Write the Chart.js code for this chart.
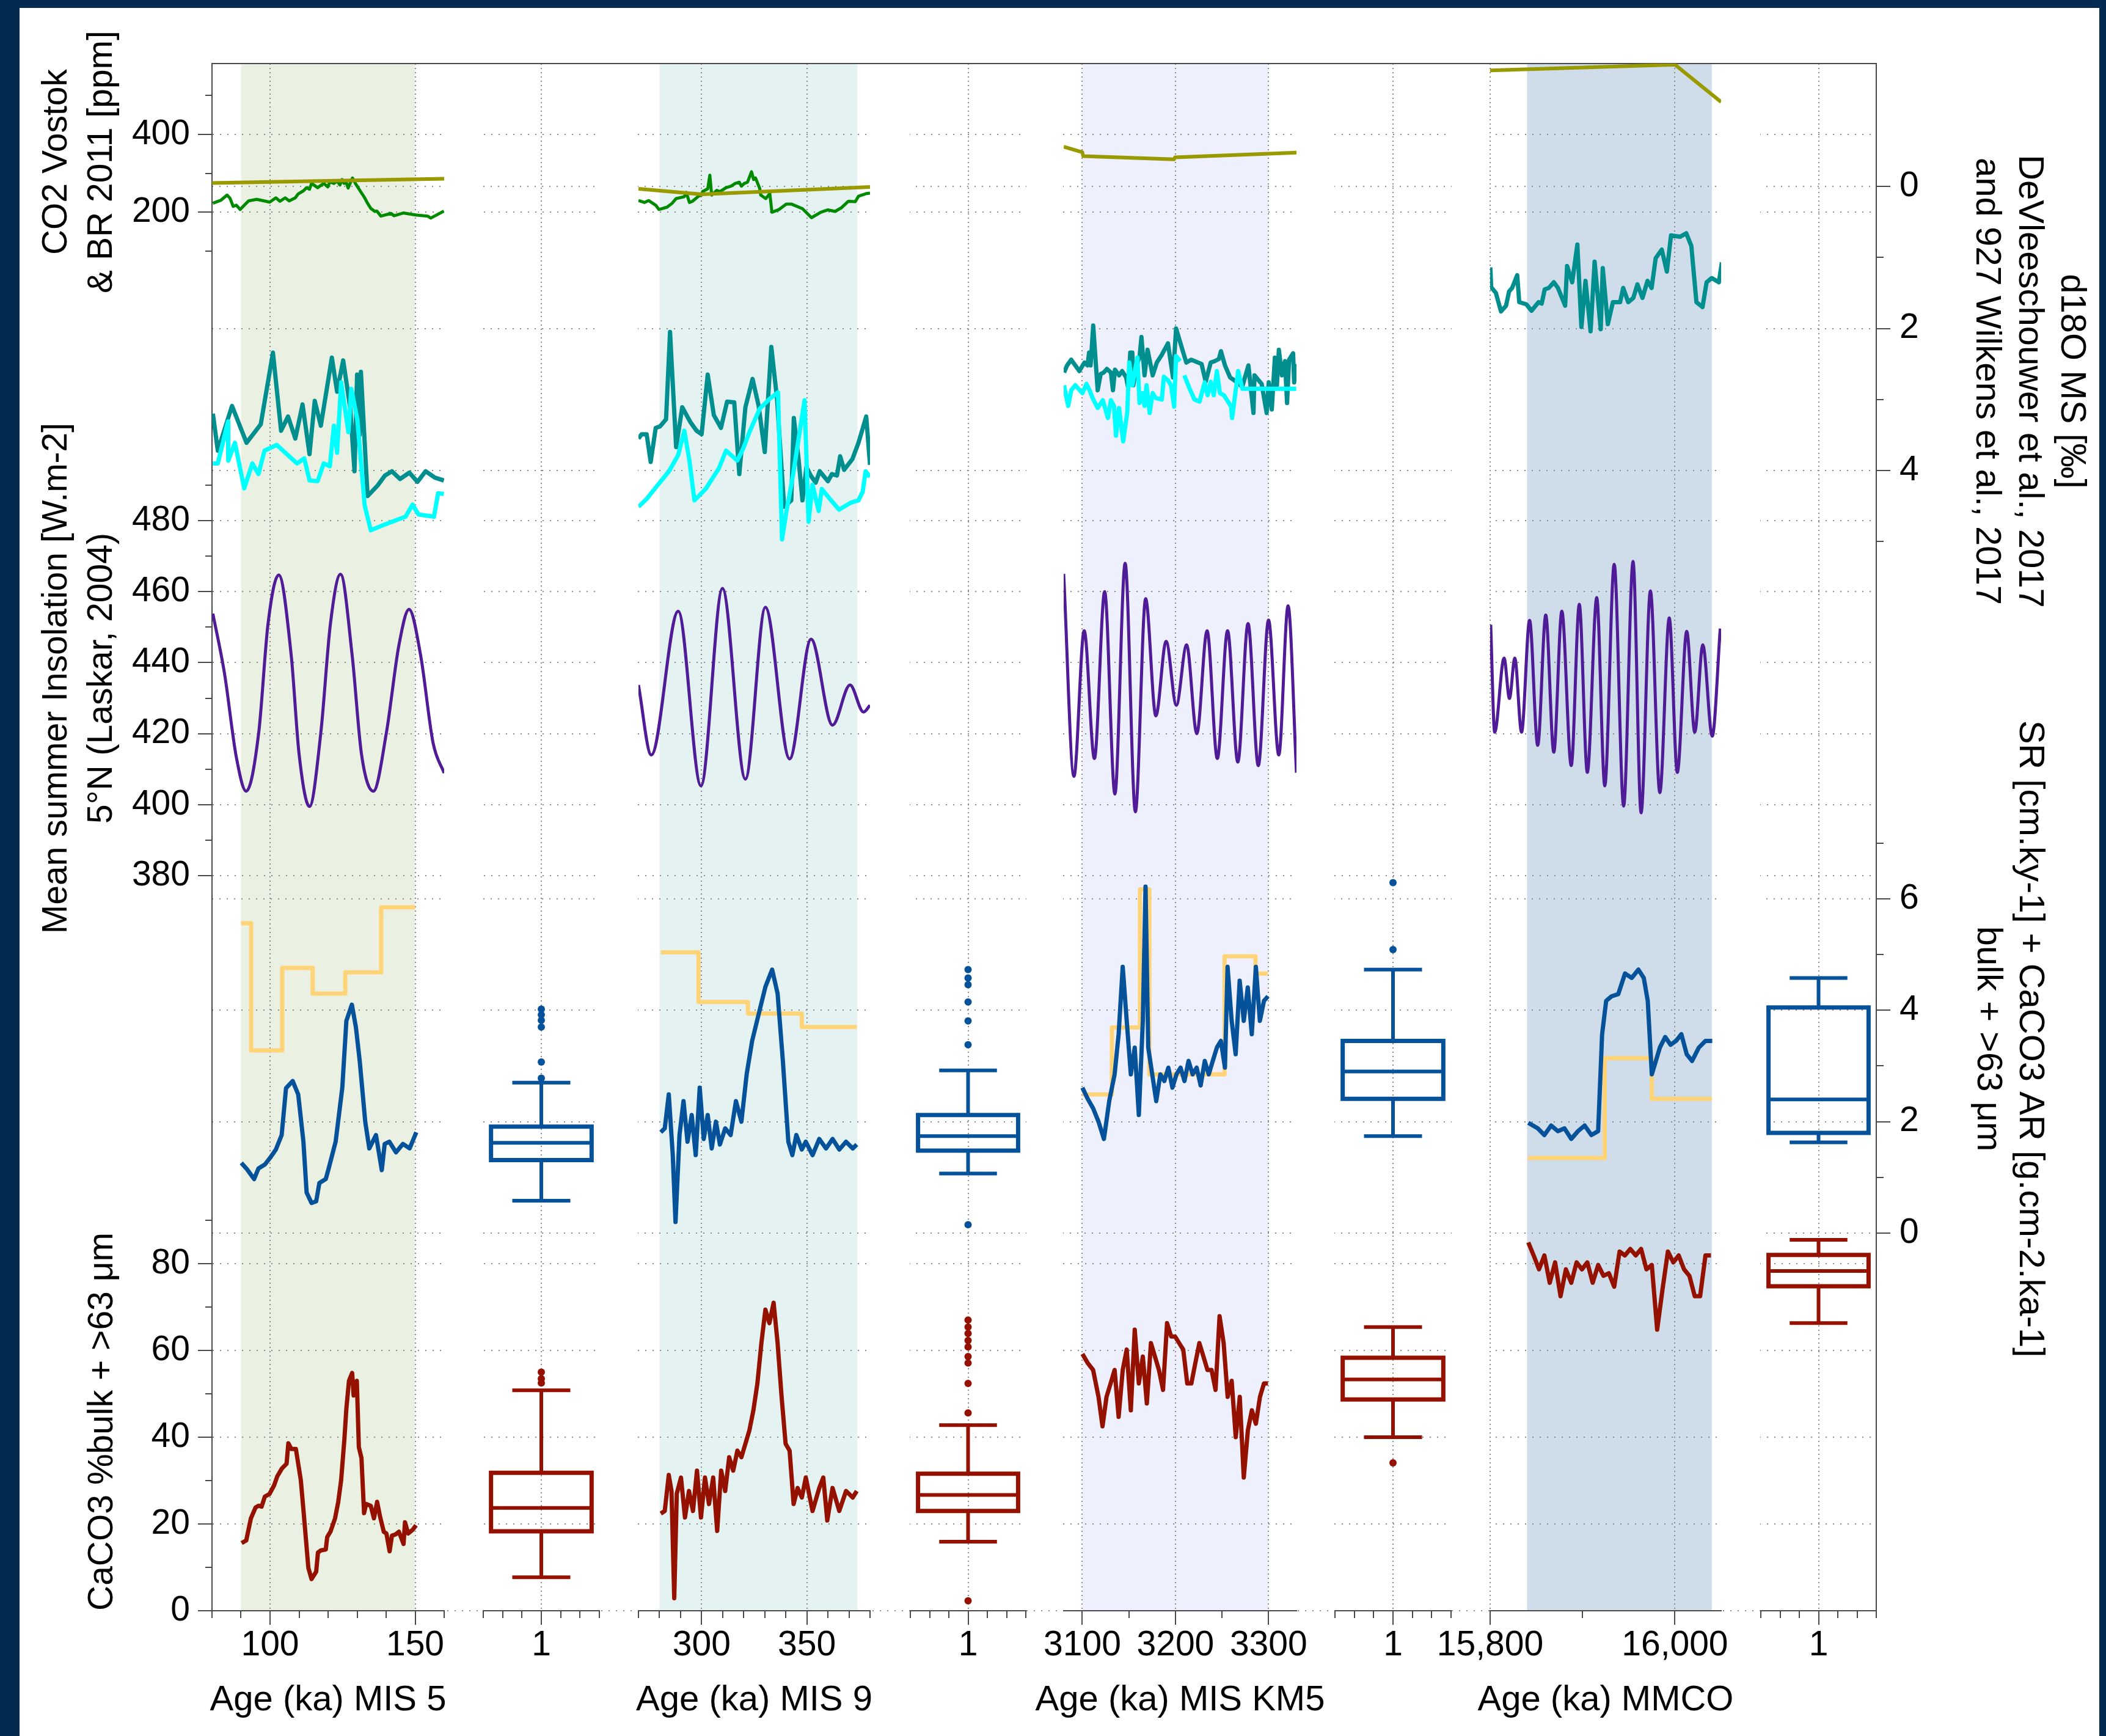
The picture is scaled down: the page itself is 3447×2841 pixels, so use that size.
<!DOCTYPE html>
<html>
<head>
<meta charset="utf-8">
<title>CO2, d18O, insolation, SR and CaCO3 at MIS 5, MIS 9, KM5 and MMCO</title>
<script src="https://cdn.jsdelivr.net/npm/chart.js@4.4.1/dist/chart.umd.min.js"></script>
<style>
  html, body { margin: 0; padding: 0; background: #032b50; overflow: hidden; }
  #fig { position: absolute; left: 0; top: 0; }
</style>
</head>
<body>
<canvas id="fig" width="3447" height="2841"></canvas>
<script>
// ---- MIS 5 series :: [age ka, value] ----
var mis5Co2Vostok = [[80.3,223],[83.1,231],[85.2,244],[86.2,236],[87.3,215],[88.4,218],[89.7,207],[92.6,229],[95.4,233],[99.9,226],[102.0,237],[103.4,228],[105.2,237],[106.6,229],[108.7,237],[109.7,247],[111.5,255],[112.6,263],[113.6,259],[114.3,274],[116.4,263],[118.5,274],[119.9,265],[120.6,278],[122.0,274],[123.1,280],[124.1,270],[124.8,284],[125.5,274],[126.2,278],[126.9,262],[128.4,288],[129.4,274],[131.2,253],[132.6,237],[133.6,223],[134.7,210],[136.1,202],[136.8,203],[138.2,190],[141.7,197],[142.7,191],[145.9,198],[150.1,193],[154.3,190],[155.4,185],[159.9,203]];
var mis5Co2Br = [[80,275],[160,286]];
var mis5D18Teal = [[80.3,3.20],[82.0,3.72],[86.9,3.09],[91.9,3.61],[96.8,3.35],[101.0,2.34],[103.8,3.44],[106.2,3.24],[108.7,3.55],[111.2,3.07],[113.6,3.77],[115.4,3.02],[117.5,3.37],[121.3,2.41],[123.1,2.89],[125.2,2.45],[127.6,3.11],[129.1,4.01],[130.0,2.65],[130.9,3.50],[131.3,2.61],[133.6,4.36],[137.1,4.21],[139.6,4.07],[142.0,4.01],[144.8,4.12],[148.0,4.03],[150.8,4.16],[153.6,4.01],[156.8,4.10],[159.9,4.14]];
var mis5D18Cyan = [[80.3,3.90],[82.0,3.90],[84.1,3.55],[85.5,3.31],[85.6,3.86],[87.9,3.61],[91.1,4.25],[93.9,3.90],[96.0,4.05],[98.1,3.72],[102.3,3.64],[109.3,3.90],[111.8,3.83],[113.6,4.14],[116.4,4.15],[118.5,3.90],[120.6,3.94],[122.0,3.37],[123.1,3.75],[124.5,2.76],[127.0,3.46],[128.0,2.85],[130.1,3.29],[132.6,4.49],[134.7,4.84],[139.6,4.76],[146.7,4.65],[149.1,4.48],[151.2,4.62],[156.5,4.65],[157.9,4.32],[159.9,4.33]];
var mis5Ins = [[80.3,453.8],[84.3,437.0],[88.4,413.3],[91.8,403.8],[96.1,420.3],[99.3,450.9],[103.0,464.7],[107.3,442.0],[110.0,414.3],[113.6,399.5],[117.5,420.3],[120.8,450.9],[124.3,464.9],[128.3,442.0],[131.5,414.3],[135.6,403.8],[140.1,420.3],[144.4,444.9],[147.9,455.0],[151.9,442.0],[156.2,417.3],[160,408.9]];
var mis5Sr = [[90.1,1.26],[92.0,1.15],[94.5,0.97],[96.0,1.16],[98.2,1.23],[100.0,1.35],[102.0,1.50],[104.0,1.76],[105.5,2.60],[107.8,2.73],[109.7,2.49],[111.5,1.64],[112.6,0.73],[114.3,0.54],[115.9,0.57],[117.0,0.90],[119.2,0.97],[120.2,1.16],[122.6,1.64],[124.9,2.61],[126.3,3.81],[128.2,4.10],[129.6,3.69],[130.9,3.09],[132.8,2.00],[134.2,1.52],[136.5,1.76],[138.5,1.13],[139.5,1.60],[141.1,1.64],[143.4,1.45],[145.8,1.60],[148.1,1.52],[150.4,1.81]];
var mis5Ar = [[90,5.56],[93.5,3.28],[104.2,4.76],[114.7,4.30],[125.9,4.68],[138.3,5.85],[150,5.85]];
var mis5Ca = [[90.2,15.6],[91.8,16.2],[93.4,21.3],[95.0,23.8],[96.1,24.2],[97.1,24.0],[98.2,26.3],[99.8,26.9],[101.4,28.9],[102.5,31.0],[104.1,32.8],[105.7,33.9],[106.3,38.6],[107.3,37.3],[108.9,37.3],[110.6,30.1],[111.6,22.5],[113.2,9.9],[114.3,7.3],[115.9,9.0],[116.5,13.4],[117.5,13.9],[119.2,14.1],[119.7,17.0],[120.8,18.2],[122.4,21.3],[123.5,25.1],[124.5,30.1],[125.6,39.4],[126.3,46.6],[127.2,53.0],[128.3,54.8],[128.8,49.6],[129.9,53.0],[130.6,37.7],[131.5,35.2],[132.4,22.5],[133.1,24.6],[134.7,24.2],[135.8,21.3],[136.9,25.1],[137.9,21.7],[139.2,18.2],[140.1,17.8],[141.2,13.7],[142.0,17.3],[143.3,17.6],[144.4,18.2],[146.0,15.4],[146.5,20.4],[147.6,17.8],[149.2,18.7],[150.3,19.7]];

// ---- MIS 9 series ----
var mis9Co2Vostok = [[270.0,230],[272.9,225],[274.8,230],[278.2,218],[279.7,207],[283.6,213],[286.0,223],[287.9,235],[291.8,240],[292.7,251],[294.2,225],[295.6,228],[298.5,241],[300.0,244],[300.5,253],[302.9,260],[303.9,295],[304.8,244],[307.2,256],[308.7,253],[311.6,263],[314.0,267],[316.0,274],[317.9,277],[318.9,267],[320.3,274],[321.8,277],[323.7,304],[324.7,284],[325.6,288],[327.6,261],[328.1,244],[330.5,235],[332.4,248],[333.4,200],[336.8,207],[340.2,221],[342.6,221],[347.9,209],[352.2,186],[356.6,200],[360.0,206],[363.4,202],[366.3,211],[369.7,228],[373.0,227],[374.5,241],[378.4,248],[380.0,249]];
var mis9Co2Br = [[270,260],[300,246],[380,265]];
var mis9D18Teal = [[270.0,3.55],[271.5,3.49],[273.9,3.49],[275.8,3.88],[278.2,3.40],[280.2,3.38],[283.1,3.28],[285.0,2.05],[287.9,3.67],[290.8,3.11],[294.7,3.32],[297.6,3.44],[300.0,3.49],[302.9,2.65],[305.8,3.22],[309.2,3.40],[312.1,3.03],[315.5,3.04],[317.9,4.05],[320.8,3.11],[324.2,2.71],[327.1,3.09],[330.0,3.74],[333.1,2.26],[335.8,2.98],[339.2,4.51],[342.6,4.42],[343.8,3.26],[346.0,3.82],[347.9,4.42],[349.8,3.95],[351.8,4.07],[354.2,4.17],[356.1,4.01],[360.0,4.15],[361.9,4.05],[364.3,4.07],[365.8,3.80],[367.7,3.99],[371.6,3.84],[374.5,3.61],[378.2,3.24],[380.0,3.92]];
var mis9D18Cyan = [[270.0,4.51],[273.9,4.40],[278.2,4.24],[284.5,4.01],[288.9,3.78],[291.8,3.44],[294.2,3.86],[296.6,4.42],[301.9,4.26],[308.2,3.97],[311.6,3.72],[316.9,3.86],[319.8,3.69],[322.7,3.46],[327.6,3.13],[332.4,2.99],[336.3,2.90],[338.2,4.97],[340.2,4.59],[343.5,4.05],[348.9,3.01],[350.8,4.72],[352.7,4.20],[355.6,4.57],[357.1,4.26],[361.5,4.42],[365.3,4.55],[371.1,4.45],[374.5,4.42],[376.5,4.30],[377.9,4.01],[380.0,4.09]];
var mis9Ins = [[270,433.7],[276.1,414.0],[288.9,454.5],[299.7,405.3],[309.9,460.9],[320.8,407.2],[330.3,455.6],[341.8,412.9],[352.0,446.6],[362.2,422.4],[370.5,433.7],[376.9,426.1],[380,428.0]];
var mis9Sr = [[280.6,1.81],[282.5,1.88],[284.4,2.49],[286.3,1.40],[287.6,0.20],[289.5,1.76],[291.4,2.37],[293.3,1.64],[295.3,2.12],[297.2,1.40],[299.1,2.61],[301.0,1.69],[302.9,2.12],[304.8,1.52],[306.8,2.00],[308.7,1.59],[311.2,1.88],[313.8,1.76],[316.3,2.37],[318.9,2.00],[321.4,2.85],[324.0,3.45],[327.1,3.93],[330.3,4.42],[333.5,4.73],[336.1,4.30],[338.6,3.09],[341.2,1.64],[343.1,1.40],[345.0,1.76],[347.6,1.50],[349.5,1.64],[352.7,1.40],[355.9,1.69],[359.1,1.52],[362.2,1.69],[365.4,1.50],[368.6,1.64],[371.8,1.52],[373.7,1.59]];
var mis9Ar = [[280.6,5.04],[298.5,4.15],[322.0,3.94],[347.6,3.70],[373.7,3.70]];
var mis9Ca = [[280.6,22.4],[282.5,23.0],[284.4,31.3],[285.7,27.6],[287.0,2.9],[288.2,27.0],[290.2,30.7],[292.1,21.5],[294.0,27.6],[295.9,23.0],[297.8,32.3],[299.7,21.5],[301.6,30.7],[303.5,24.6],[305.5,30.7],[307.4,18.4],[309.3,32.3],[311.2,27.6],[313.1,35.4],[315.0,32.3],[317.0,36.9],[318.9,35.4],[320.8,38.5],[322.7,41.6],[324.6,46.2],[326.5,52.4],[328.4,61.7],[330.3,69.4],[332.2,66.3],[334.2,71.0],[336.1,61.7],[338.0,49.3],[339.9,38.5],[341.8,36.9],[343.7,24.6],[345.6,28.3],[347.6,26.1],[349.5,30.7],[352.7,23.0],[355.9,28.3],[357.8,30.7],[359.7,20.8],[362.2,28.3],[365.4,23.0],[368.6,27.6],[371.8,26.1],[373.7,27.6]];

// ---- MIS KM5 series ----
var km5Co2Br = [[3080,368],[3100,354],[3101,344],[3198.6,336],[3199.6,341],[3330,353]];
var km5D18Teal = [[3080.4,2.62],[3083.7,2.52],[3088.1,2.44],[3096.8,2.60],[3102.3,2.48],[3105.6,2.52],[3107.3,2.34],[3108.9,2.52],[3111.7,1.96],[3116.5,2.87],[3119.8,2.64],[3123.1,2.62],[3126.4,2.57],[3130.7,2.62],[3132.9,2.87],[3135.1,2.58],[3139.5,2.66],[3142.8,2.60],[3147.1,2.69],[3149.3,2.84],[3151.5,2.34],[3153.7,2.34],[3154.8,2.80],[3158.1,2.52],[3161.4,2.41],[3163.5,2.12],[3166.8,2.66],[3170.1,2.30],[3175.6,2.66],[3180.0,2.48],[3185.4,2.37],[3192.0,2.21],[3197.4,2.69],[3200.7,2.00],[3208.4,2.34],[3211.7,2.48],[3217.1,2.44],[3228.1,2.50],[3232.5,2.75],[3237.9,2.48],[3242.3,2.46],[3246.7,2.43],[3248.9,2.32],[3253.2,2.52],[3258.7,2.69],[3265.2,2.75],[3271.8,2.82],[3278.4,2.52],[3283.8,3.19],[3284.9,2.66],[3292.6,2.78],[3298.0,3.19],[3300.2,2.76],[3303.5,3.14],[3306.8,2.41],[3309.0,2.80],[3311.1,2.30],[3314.4,2.66],[3317.7,2.46],[3319.9,3.05],[3322.1,2.44],[3326.4,2.35],[3327.5,2.76],[3329.7,2.50]];
var km5D18Cyan = [[3080.4,2.80],[3084.8,3.09],[3088.1,2.87],[3092.5,2.80],[3100.1,2.91],[3104.5,2.78],[3107.8,2.87],[3111.1,2.98],[3116.5,3.12],[3122.0,3.01],[3127.5,3.26],[3130.7,3.01],[3134.0,3.09],[3136.2,3.51],[3139.5,3.12],[3143.9,3.59],[3148.2,3.19],[3150.4,2.48],[3153.7,2.80],[3159.2,2.41],[3161.4,3.05],[3164.6,2.91],[3166.8,3.09],[3169.0,2.80],[3172.3,3.19],[3175.6,2.91],[3178.9,2.98],[3185.4,3.00],[3187.6,2.68],[3192.0,2.73],[3195.3,2.80],[3198.6,3.10],[3200.7,2.39],[3205.1,2.46],[3207.0,null],[3209.5,2.66],[3215.0,2.84],[3220.4,3.00],[3225.9,3.03],[3231.4,2.76],[3234.6,2.94],[3237.9,2.75],[3241.2,2.94],[3244.5,2.60],[3247.8,2.91],[3252.1,2.94],[3259.8,3.10],[3260.9,3.26],[3267.4,2.60],[3271.8,2.85],[3329.7,2.85]];
var km5Ins = [[3080,465],[3091,408],[3102,449],[3113,413],[3124,460],[3135,403],[3146,468],[3157,398],[3168,458],[3179,425],[3190,446],[3201,428],[3212,445],[3223,420],[3234,449],[3245,413],[3256,449],[3267,412],[3278,451],[3289,411],[3300,452],[3311,414],[3321,456],[3330,409]];
var km5Sr = [[3100.1,2.61],[3105.8,2.41],[3111.6,2.24],[3117.4,2.00],[3123.2,1.69],[3128.9,2.37],[3134.7,2.85],[3139.0,3.57],[3143.4,4.78],[3147.7,3.81],[3152.1,2.85],[3156.3,3.33],[3160.7,2.12],[3165.0,3.81],[3167.9,6.22],[3170.8,3.33],[3175.1,2.85],[3179.4,2.37],[3183.8,2.85],[3188.1,2.73],[3192.4,2.97],[3196.8,2.61],[3201.1,2.85],[3205.5,2.97],[3209.7,2.73],[3214.1,3.09],[3218.5,2.85],[3222.8,2.97],[3227.1,2.65],[3231.5,3.09],[3235.8,2.85],[3240.1,3.09],[3244.5,3.33],[3248.8,3.45],[3253.2,2.97],[3256.0,4.78],[3260.4,3.81],[3264.7,3.21],[3269.0,4.53],[3273.4,3.81],[3277.7,4.41],[3282.0,3.57],[3286.4,4.78],[3290.7,3.81],[3295.1,4.17],[3299.4,4.25]];
var km5Ar = [[3100,2.49],[3131.8,3.69],[3161.9,6.17],[3172,2.85],[3252.8,4.97],[3286,4.66],[3299.4,4.66]];
var km5Ca = [[3100.1,59.2],[3105.8,57.1],[3111.6,55.5],[3117.4,49.3],[3121.7,42.5],[3126.0,49.3],[3130.4,52.4],[3134.7,55.5],[3139.0,44.7],[3143.4,55.5],[3147.7,60.2],[3152.1,46.2],[3156.3,64.8],[3160.7,52.4],[3165.0,58.6],[3169.3,47.8],[3173.7,61.7],[3178.0,58.6],[3182.3,55.5],[3186.7,50.9],[3191.0,66.3],[3195.4,63.2],[3199.7,63.2],[3204.0,61.7],[3208.4,60.2],[3212.7,52.4],[3217.1,52.4],[3221.4,57.1],[3225.7,61.7],[3230.1,58.6],[3234.4,55.5],[3238.8,55.5],[3243.1,50.9],[3247.4,67.9],[3251.8,61.7],[3256.1,49.3],[3260.4,53.0],[3264.8,40.0],[3269.1,49.3],[3273.4,30.7],[3277.8,41.6],[3282.1,46.2],[3286.4,43.1],[3290.8,49.3],[3295.1,52.4],[3299.4,52.4]];

// ---- MMCO series ----
var mmcoCo2Br = [[15800,564],[16000,579],[16050,483]];
var mmcoD18Teal = [[15800.2,1.14],[15801.1,1.42],[15806.2,1.50],[15811.7,1.76],[15817.2,1.68],[15820.5,1.48],[15823.8,1.43],[15829.3,1.25],[15831.5,1.63],[15839.2,1.66],[15844.8,1.75],[15852.4,1.63],[15855.8,1.65],[15859.1,1.45],[15863.5,1.43],[15869.0,1.35],[15873.4,1.43],[15881.2,1.68],[15883.3,1.12],[15888.8,1.35],[15894.4,0.82],[15898.8,1.98],[15903.2,1.33],[15908.7,2.04],[15913.1,1.06],[15919.7,2.01],[15921.9,1.15],[15927.4,1.94],[15932.9,1.63],[15940.7,1.63],[15944.0,1.43],[15949.5,1.63],[15955.0,1.57],[15959.4,1.38],[15964.9,1.57],[15970.4,1.33],[15974.8,1.43],[15979.2,1.01],[15985.8,0.89],[15991.3,1.20],[15995.8,0.69],[16005.7,0.71],[16012.3,0.66],[16017.8,0.84],[16023.3,1.63],[16029.9,1.70],[16034.3,1.35],[16039.9,1.29],[16047.6,1.35],[16050.9,1.07]];
var mmcoIns = [[15800.6,450.7],[15804.9,420.4],[15815.1,441.3],[15820.9,429.9],[15826.7,441.3],[15834.0,420.4],[15842.7,451.9],[15851.5,416.7],[15860.2,453.4],[15868.9,414.8],[15877.6,454.5],[15887.8,411.0],[15896.5,456.4],[15905.2,409.1],[15915.4,458.3],[15924.1,405.3],[15934.3,467.7],[15944.5,399.6],[15954.7,468.5],[15963.4,397.7],[15973.5,460.2],[15983.7,403.4],[15993.9,452.6],[16002.6,409.1],[16012.8,448.8],[16021.5,420.4],[16030.2,445.0],[16040.4,419.3],[16049.1,449.6]];
var mmcoSr = [[15841.3,1.98],[15851.5,1.88],[15858.7,1.76],[15866.0,1.93],[15873.3,1.83],[15880.5,1.88],[15887.8,1.69],[15895.1,1.83],[15902.3,1.93],[15909.6,1.76],[15916.9,1.83],[15921.2,3.57],[15925.6,4.17],[15931.4,4.25],[15938.7,4.29],[15946.0,4.66],[15953.2,4.58],[15960.5,4.73],[15966.3,4.58],[15970.6,4.17],[15975.0,2.85],[15979.4,3.09],[15983.7,3.33],[15989.5,3.52],[15995.3,3.38],[16001.2,3.45],[16007.0,3.57],[16012.8,3.21],[16018.6,3.09],[16025.9,3.33],[16033.1,3.45],[16040.4,3.45]];
var mmcoAr = [[15841,1.35],[15924,3.14],[15975,2.41],[16040,2.41]];
var mmcoCa = [[15841.3,84.9],[15847.1,81.9],[15852.9,78.7],[15858.7,81.9],[15864.5,75.6],[15870.3,80.3],[15876.2,72.5],[15882.0,78.7],[15887.8,75.6],[15893.6,80.3],[15899.4,78.7],[15905.2,80.3],[15911.0,75.6],[15916.9,79.7],[15922.7,77.2],[15928.5,77.8],[15934.3,74.7],[15940.1,82.8],[15945.9,81.9],[15951.7,83.4],[15957.6,81.9],[15963.4,83.4],[15969.2,78.7],[15975.0,79.7],[15980.8,64.8],[15986.6,74.1],[15992.4,82.8],[15998.3,80.3],[16004.1,81.9],[16009.9,78.7],[16015.7,77.2],[16021.5,72.5],[16027.3,72.5],[16033.1,81.9],[16039.0,81.9]];

// ---- box plots :: [lower whisker, q1, median, q3, upper whisker] per interval ----
var srBoxStats = [[0.58,1.31,1.62,1.91,2.70],[1.07,1.48,1.74,2.12,2.92],[1.74,2.41,2.90,3.45,4.73],[1.63,1.80,2.40,4.05,4.58]];
var srOutliers = [[2.78,3.07,3.70,3.82,3.92,4.02],[0.15,3.38,3.81,4.15,4.46,4.58,4.73],[5.09,6.29],[]];
var caBoxStats = [[7.7,18.3,23.7,31.8,50.8],[15.9,23.0,26.7,31.6,42.8],[40.0,48.7,53.3,58.3,65.4],[66.3,74.8,78.3,82.0,85.5]];
var caOutliers = [[52.5,53.5,55.0],[2.3,45.6,52.4,57.1,58.6,60.8,62.3,63.9,65.4,67.0],[34.1],[]];

// ---- shaded intervals (ka) and panel titles ----
var bands = [[90,150],[280,374],[3100,3300],[15840,16040]];
var bandColors = ['#ebf1e2','#e4f3f2','#eef0fd','#cedde9'];
var panelTitles = ['Age (ka) MIS 5', 'Age (ka) MIS 9', 'Age (ka) MIS KM5', 'Age (ka) MMCO'];

// ---- tick values ----
var mis5Ticks = [80,90,100,110,120,130,140,150,160];
var mis5Major = [100,150];
var mis9Ticks = [270,280,290,300,310,320,330,340,350,360,370,380];
var mis9Major = [300,350];
var km5Ticks = [3100,3150,3200,3250,3300];
var km5Major = [3100,3200,3300];
var mmcoTicks = [15800,15900,16000];
var mmcoMajor = [15800,16000];
var boxTicks = [0.7,0.8,0.9,1,1.1,1.2,1.3];
var boxMajor = [1];
var co2Ticks = [100,200,300,400,500];
var co2Major = [200,400];
var insTicks = [380,390,400,410,420,430,440,450,460,470,480,490];
var insMajor = [380,400,420,440,460,480];
var caTicks = [0,10,20,30,40,50,60,70,80,90];
var caMajor = [0,20,40,60,80];
var d18Ticks = [0,1,2,3,4,5];
var d18Major = [0,2,4];
var srTicks = [0,1,2,3,4,5,6,7];
var srMajor = [0,2,4,6];

// ---- styling ----
var FONT = '"Liberation Sans", Arial, Helvetica, sans-serif';
var INK = '#000000';
var AXIS = '#4a4a4a';
var GRID = '#8c8c8c';
var GREEN = '#008a00', OLIVE = '#999900', TEAL = '#008e8e', CYAN = '#00ffff';
var PURPLE = '#4f1b96', BLUE = '#06529a', YELLOW = '#ffd479', RED = '#941100';

function setTicks(vals) {
  return function (s) { s.ticks = vals.map(function (v) { return {value: v}; }); };
}
function majorTest(list) {
  return function (c) { return !!c.tick && list.indexOf(c.tick.value) >= 0; };
}

function yScale(pos, weight, stackWeight, min, max, ticks, major, title, titleSize, lh, titlePad, align, reverse) {
  var isMaj = majorTest(major);
  return {
    axis: 'y', type: 'linear', position: pos, stack: pos, weight: weight, stackWeight: stackWeight,
    min: min, max: max, reverse: !!reverse,
    afterBuildTicks: setTicks(ticks),
    afterFit: function (s) { s.width = pos === 'left' ? 307 : 355; },
    ticks: {
      autoSkip: false, padding: pos === 'left' ? 13 : 15, color: INK, font: {family: FONT, size: 57},
      callback: function (v) { return major.indexOf(v) >= 0 ? String(v) : ''; }
    },
    grid: {
      lineWidth: 2, tickLength: 23, tickWidth: 2, tickColor: AXIS,
      color: function (c) { return isMaj(c) ? GRID : 'rgba(0,0,0,0)'; },
      tickBorderDash: function (c) { return isMaj(c) ? [] : (pos === 'left' ? [0, 12, 11, 60] : [11, 60]); }
    },
    border: {color: AXIS, width: 2, dash: [2, 10]},
    title: {
      display: true, text: title, color: INK, align: align || 'center',
      font: {family: FONT, size: titleSize, lineHeight: lh}, padding: {top: titlePad, bottom: 0}
    }
  };
}

function xScale(weight, stackWeight, min, max, ticks, major, fmt) {
  var isMaj = majorTest(major);
  return {
    axis: 'x', type: 'linear', position: 'bottom', stack: 'row', weight: weight, stackWeight: stackWeight,
    min: min, max: max,
    afterBuildTicks: setTicks(ticks),
    afterFit: function (s) { s.height = 195; },
    ticks: {
      autoSkip: false, maxRotation: 0, minRotation: 0, padding: 0, color: INK, font: {family: FONT, size: 57},
      callback: function (v) { return major.indexOf(v) >= 0 ? fmt(v) : ''; }
    },
    grid: {
      lineWidth: 2, tickLength: 23, tickWidth: 2, tickColor: AXIS,
      color: function (c) { return isMaj(c) ? GRID : 'rgba(0,0,0,0)'; },
      tickBorderDash: function (c) { return isMaj(c) ? [] : [11, 60]; }
    },
    border: {color: AXIS, width: 2, dash: [2, 5]},
    title: {display: false}
  };
}

function gapScale(weight, stackWeight) {
  return {axis: 'x', type: 'linear', position: 'bottom', stack: 'row', weight: weight, stackWeight: stackWeight,
          display: false, min: 0, max: 1};
}

function plain(v) { return String(v); }
function comma(v) { return v.toLocaleString('en-US'); }

function series(data, xId, yId, color, width, extra) {
  var ds = {data: data, xAxisID: xId, yAxisID: yId, borderColor: color, backgroundColor: color,
            borderWidth: width, pointRadius: 0, fill: false, tension: 0, borderJoinStyle: 'round', spanGaps: false};
  for (var k in extra) { ds[k] = extra[k]; }
  return ds;
}

// box, median, whiskers and outliers of one box plot, built from its stats
function boxPlot(stats, outliers, xId, yId, color) {
  var lo = stats[0], q1 = stats[1], med = stats[2], q3 = stats[3], hi = stats[4];
  var w = 0.26, c = 0.15;
  return [
    series([[1 - w, q1], [1 + w, q1], [1 + w, q3], [1 - w, q3], [1 - w, q1]], xId, yId, color, 7,
           {borderJoinStyle: 'miter', borderCapStyle: 'square'}),
    series([[1 - w, med], [1 + w, med]], xId, yId, color, 6),
    series([[1, q3], [1, hi], [1, null], [1 - c, hi], [1 + c, hi], [1, null],
            [1, q1], [1, lo], [1, null], [1 - c, lo], [1 + c, lo]], xId, yId, color, 6),
    series(outliers.map(function (v) { return [1, v]; }), xId, yId, color, 0,
           {showLine: false, pointRadius: 6, pointBackgroundColor: color, pointBorderWidth: 0})
  ];
}

var panelIds = ['xP1', 'xP2', 'xP3', 'xP4'];
var boxIds = ['xB1', 'xB2', 'xB3', 'xB4'];
var gapIds = ['g1', 'g2', 'g3', 'g4', 'g5', 'g6', 'g7'];

var datasets = [];
var panelSeries = [
  [mis5Co2Br, mis5Co2Vostok, mis5D18Cyan, mis5D18Teal, mis5Ins, mis5Sr, mis5Ar, mis5Ca],
  [mis9Co2Br, mis9Co2Vostok, mis9D18Cyan, mis9D18Teal, mis9Ins, mis9Sr, mis9Ar, mis9Ca],
  [km5Co2Br, null, km5D18Cyan, km5D18Teal, km5Ins, km5Sr, km5Ar, km5Ca],
  [mmcoCo2Br, null, null, mmcoD18Teal, mmcoIns, mmcoSr, mmcoAr, mmcoCa]
];
panelSeries.forEach(function (p, i) {
  var x = panelIds[i];
  datasets.push(series(p[0], x, 'yCO2', OLIVE, 6));
  if (p[1]) datasets.push(series(p[1], x, 'yCO2', GREEN, 5));
  if (p[2]) datasets.push(series(p[2], x, 'yD18', CYAN, 7));
  datasets.push(series(p[3], x, 'yD18', TEAL, 7));
  datasets.push(series(p[4], x, 'yIns', PURPLE, 5, {cubicInterpolationMode: 'monotone'}));
  datasets.push(series(p[5], x, 'ySR', BLUE, 7));
  datasets.push(series(p[6], x, 'ySR', YELLOW, 7, {stepped: true}));
  datasets.push(series(p[7], x, 'yCa', RED, 7));
});
boxIds.forEach(function (x, i) {
  datasets = datasets.concat(boxPlot(srBoxStats[i], srOutliers[i], x, 'ySR', BLUE));
  datasets = datasets.concat(boxPlot(caBoxStats[i], caOutliers[i], x, 'yCa', RED));
});

// white sheet, interval shading, blank gaps between panels and the age titles
var figurePlugin = {
  id: 'figure',
  beforeDraw: function (chart) {
    var ctx = chart.ctx, a = chart.chartArea;
    ctx.save();
    ctx.fillStyle = '#ffffff';
    ctx.fillRect(32, 13, 3404, 2828);
    bands.forEach(function (b, i) {
      var s = chart.scales[panelIds[i]];
      var x0 = s.getPixelForValue(b[0]), x1 = s.getPixelForValue(b[1]);
      ctx.fillStyle = bandColors[i];
      ctx.fillRect(x0, a.top, x1 - x0, a.bottom - a.top);
    });
    ctx.restore();
  },
  beforeDatasetsDraw: function (chart) {
    var ctx = chart.ctx, a = chart.chartArea;
    ctx.save();
    ctx.fillStyle = '#ffffff';
    gapIds.forEach(function (id) {
      var s = chart.scales[id];
      ctx.fillRect(s.left + 1, a.top + 2, s.right - s.left - 2, a.bottom - a.top - 3);
    });
    ctx.restore();
  },
  afterDraw: function (chart) {
    var ctx = chart.ctx;
    ctx.save();
    ctx.font = '58px ' + FONT;
    ctx.fillStyle = INK;
    ctx.textAlign = 'center';
    ctx.textBaseline = 'middle';
    panelIds.forEach(function (id, i) {
      var s = chart.scales[id];
      ctx.fillText(panelTitles[i], (s.left + s.right) / 2, s.top + 147);
    });
    ctx.restore();
  }
};

var scales = {
  xTop: {axis: 'x', type: 'linear', position: 'top', min: 0, max: 1,
         afterFit: function (s) { s.height = 0; },
         ticks: {display: false}, grid: {display: false}, border: {display: true, color: AXIS, width: 2}},
  xP1: xScale(1, 380, 80, 160, mis5Ticks, mis5Major, plain),
  g1: gapScale(2, 64),
  xB1: xScale(3, 190, 0.7, 1.3, boxTicks, boxMajor, plain),
  g2: gapScale(4, 64),
  xP2: xScale(5, 379, 270, 380, mis9Ticks, mis9Major, plain),
  g3: gapScale(6, 66),
  xB2: xScale(7, 189, 0.7, 1.3, boxTicks, boxMajor, plain),
  g4: gapScale(8, 62),
  xP3: xScale(9, 381, 3080, 3330, km5Ticks, km5Major, plain),
  g5: gapScale(10, 63),
  xB3: xScale(11, 190, 0.7, 1.3, boxTicks, boxMajor, plain),
  g6: gapScale(12, 64),
  xP4: xScale(13, 378, 15800, 16050, mmcoTicks, mmcoMajor, comma),
  g7: gapScale(14, 65),
  xB4: xScale(15, 189, 0.7, 1.3, boxTicks, boxMajor, plain),

  yCO2: yScale('left', 3, 322, 76.5, 581.8, co2Ticks, co2Major, ['CO2 Vostok', '& BR 2011 [ppm]'], 57, 1.3, 16),
  yIns: yScale('left', 2, 1368, 317.9, 553.3, insTicks, insMajor, ['Mean summer Insolation [W.m-2]', '5°N (Laskar, 2004)'], 57, 1.3, 16),
  yCa: yScale('left', 1, 842, 0, 118.6, caTicks, caMajor, 'CaCO3 %bulk + >63 μm', 57, 1.3, 91, 'start'),

  yD18: yScale('right', 1, 1040, -1.729, 7.217, d18Ticks, d18Major,
               ['d18O MS [‰]', 'DeVleeschouwer et al., 2017', 'and 927 Wilkens et al., 2017'], 58, 1.2, 1, 'center', true),
  ySR: yScale('right', 2, 1112, -2.611, 9.587, srTicks, srMajor,
              ['SR [cm.ky-1] + CaCO3 AR [g.cm-2.ka-1]', 'bulk + >63 μm'], 58, 1.2, 69),
  yRsp: {axis: 'y', type: 'linear', position: 'right', stack: 'right', weight: 3, stackWeight: 380, min: 0, max: 1,
         afterFit: function (s) { s.width = 355; },
         ticks: {display: false}, grid: {display: false}, border: {display: true, color: AXIS, width: 2}}
};

var ctx = document.getElementById('fig').getContext('2d');
var chart = new Chart(ctx, {
  type: 'line',
  data: {datasets: datasets},
  options: {
    responsive: false,
    devicePixelRatio: 1,
    animation: false,
    events: [],
    layout: {padding: {left: 40, right: 21, top: 104, bottom: 10}},
    plugins: {legend: {display: false}, tooltip: {enabled: false}, title: {display: false}},
    scales: scales
  },
  plugins: [figurePlugin]
});
</script>
</body>
</html>
